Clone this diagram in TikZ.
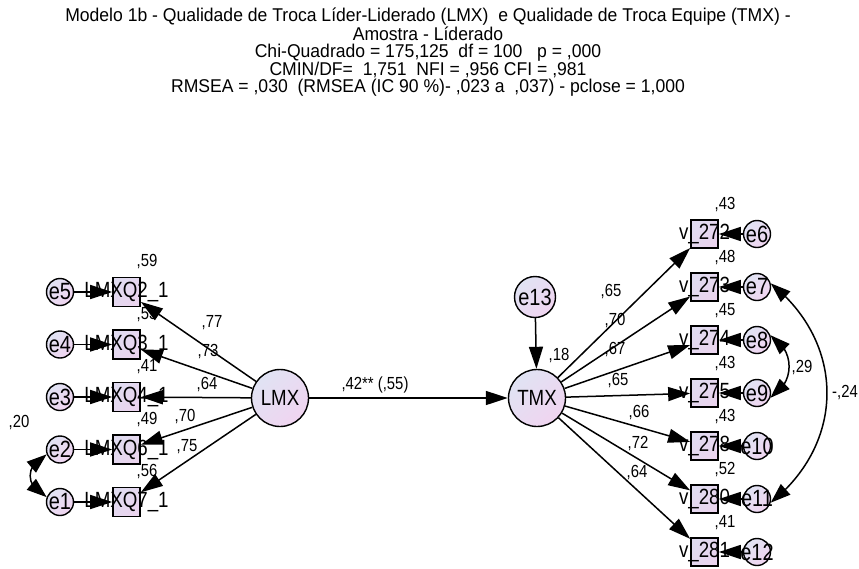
\documentclass[tikz,border=0pt]{standalone}
\usepackage{fontspec}
\setmainfont[FakeStretch=0.85]{Liberation Sans}
\newfontfamily\titlefont[FakeStretch=0.95]{Liberation Sans}
\usetikzlibrary{arrows.meta,bending}
\newcommand\fsz[1]{\fontsize{#1}{#1}\selectfont}
\definecolor{fillA}{HTML}{E0E3F3}
\definecolor{fillB}{HTML}{F0D4F0}
\definecolor{boxA}{HTML}{E0DBF0}
\definecolor{boxB}{HTML}{EAD4EE}
\begin{document}
\begin{tikzpicture}[x=1pt,y=1pt,
  ttl/.style={anchor=north, inner sep=0, align=center, font=\titlefont\fontsize{18.5}{17}\selectfont},
  obs/.style={draw, line width=1.7pt, minimum width=27pt, minimum height=29pt, inner sep=0,
    shade, top color=boxA, bottom color=boxB, shading angle=45},
  lat/.style={circle, draw, line width=1.4pt, minimum size=57pt, inner sep=0,
    shade, top color=fillA, bottom color=fillB, shading angle=45, font=\fsz{22}},
  err/.style={circle, draw, line width=1.4pt, minimum size=27pt, inner sep=0,
    shade, top color=fillA, bottom color=fillB, shading angle=45},
  btxt/.style={inner sep=0, font=\fsz{22}},
  etxt/.style={inner sep=0, font=\fsz{23.5}},
  lbl/.style={inner sep=0, font=\fsz{17.5}},
  arr/.style={-{Triangle[length=22pt,width=14pt]}, line width=1.5pt},
  cov/.style={{Triangle[length=20pt,width=14pt]}-{Triangle[length=20pt,width=14pt]}, line width=1.5pt}
]
\useasboundingbox (0,0) rectangle (859,-568);

% title
\node[ttl] (title) at (428,-8) {Modelo 1b - Qualidade de Troca Líder-Liderado (LMX)\ \ e Qualidade de Troca Equipe (TMX) -\\
Amostra - Líderado\\
Chi-Quadrado = 175,125\ \ df = 100\ \ \ p = ,000\\
CMIN/DF=\ \ 1,751\ \ NFI = ,956 CFI = ,981\\
RMSEA = ,030\ \ (RMSEA (IC 90 \%)- ,023 a\ \ ,037) - pclose = 1,000};

% latent
\node[lat] (lmx) at (280,-398) {LMX};
\node[lat] (tmx) at (537,-398) {TMX};
\node[err, minimum size=41pt, font=\fsz{23.5}] (e13) at (535,-297) {e13};

% left indicators
\foreach \i/\y in {1/292, 2/344.5, 3/397, 4/449.5, 5/502}{
  \node[obs] (L\i) at (126.5,-\y) {};
}
\node[err] (e5) at (60,-292) {};
\node[err] (e4) at (60,-344.5) {};
\node[err] (e3) at (60,-397) {};
\node[err] (e2) at (60,-449.5) {};
\node[err] (e1) at (60,-502) {};

% right indicators
\foreach \i/\y in {1/234, 2/287, 3/340, 4/393, 5/446, 6/499, 7/552}{
  \node[obs, minimum height=28pt] (R\i) at (704.5,-\y) {};
}
\node[err] (e6) at (757,-234) {};
\node[err] (e7) at (757,-287) {};
\node[err] (e8) at (757,-340) {};
\node[err] (e9) at (757,-393) {};
\node[err] (e10) at (757,-446) {};
\node[err] (e11) at (757,-499) {};
\node[err] (e12) at (757,-552) {};

% paths
\draw[arr] (lmx) -- (tmx);
\draw[arr] (e13) -- (tmx);
\foreach \i in {1,...,5}{ \draw[arr] (lmx) -- (L\i); }
\draw[arr] (e5) -- (L1);
\draw[arr] (e4) -- (L2);
\draw[arr] (e3) -- (L3);
\draw[arr] (e2) -- (L4);
\draw[arr] (e1) -- (L5);
\foreach \i in {1,...,7}{ \draw[arr] (tmx) -- (R\i); }
\draw[arr] (e6) -- (R1);
\draw[arr] (e7) -- (R2);
\draw[arr] (e8) -- (R3);
\draw[arr] (e9) -- (R4);
\draw[arr] (e10) -- (R5);
\draw[arr] (e11) -- (R6);
\draw[arr] (e12) -- (R7);

% covariances
\draw[cov] (e2.200) .. controls +(-22,-10) and +(-22,10) .. (e1.160);
\draw[cov] (e8.20) .. controls +(25,-15) and +(25,15) .. (e9.-20);
\draw[cov] (e7.15) .. controls +(75,-60) and +(75,60) .. (e11.-15);

% texts on shapes
\node[btxt] (tL1) at (L1) {LMXQ2\_1};
\node[btxt] (tL2) at (L2) {LMXQ3\_1};
\node[btxt] (tL3) at (L3) {LMXQ4\_1};
\node[btxt] (tL4) at (L4) {LMXQ6\_1};
\node[btxt] (tL5) at (L5) {LMXQ7\_1};
\node[btxt] (tR1) at (R1) {v\_272};
\node[btxt] (tR2) at (R2) {v\_273};
\node[btxt] (tR3) at (R3) {v\_274};
\node[btxt] (tR4) at (R4) {v\_275};
\node[btxt] (tR5) at (R5) {v\_278};
\node[btxt] (tR6) at (R6) {v\_280};
\node[btxt] (tR7) at (R7) {v\_281};
\foreach \n in {1,...,12}{ \node[etxt] (te\n) at (e\n) {e\n}; }

% variance labels
\node[lbl] (v1) at (147,-262) {,59};
\node[lbl] (v2) at (147,-314.5) {,53};
\node[lbl] (v3) at (147,-367) {,41};
\node[lbl] (v4) at (147,-419.5) {,49};
\node[lbl] (v5) at (147,-472) {,56};
\node[lbl] (w1) at (725,-205) {,43};
\node[lbl] (w2) at (725,-258) {,48};
\node[lbl] (w3) at (725,-311) {,45};
\node[lbl] (w4) at (725,-364) {,43};
\node[lbl] (w5) at (725,-417) {,43};
\node[lbl] (w6) at (725,-470) {,52};
\node[lbl] (w7) at (725,-523) {,41};
\node[lbl] (w13) at (559,-356) {,18};

% loadings
\node[lbl] (p1) at (212,-323) {,77};
\node[lbl] (p2) at (208,-352) {,73};
\node[lbl] (p3) at (207,-385) {,64};
\node[lbl] (p4) at (185,-417) {,70};
\node[lbl] (p5) at (187,-447) {,75};
\node[lbl] (q1) at (611,-292) {,65};
\node[lbl] (q2) at (615,-321) {,70};
\node[lbl] (q3) at (615,-350) {,67};
\node[lbl] (q4) at (618,-381) {,65};
\node[lbl] (q5) at (639,-413) {,66};
\node[lbl] (q6) at (638,-444) {,72};
\node[lbl] (q7) at (637,-473) {,64};
\node[lbl] (pm) at (375,-385) {,42** (,55)};
\node[lbl] (c1) at (19,-423) {,20};
\node[lbl] (c2) at (802,-368) {,29};
\node[lbl] (c3) at (845,-393) {-,24};
\end{tikzpicture}
\end{document}
